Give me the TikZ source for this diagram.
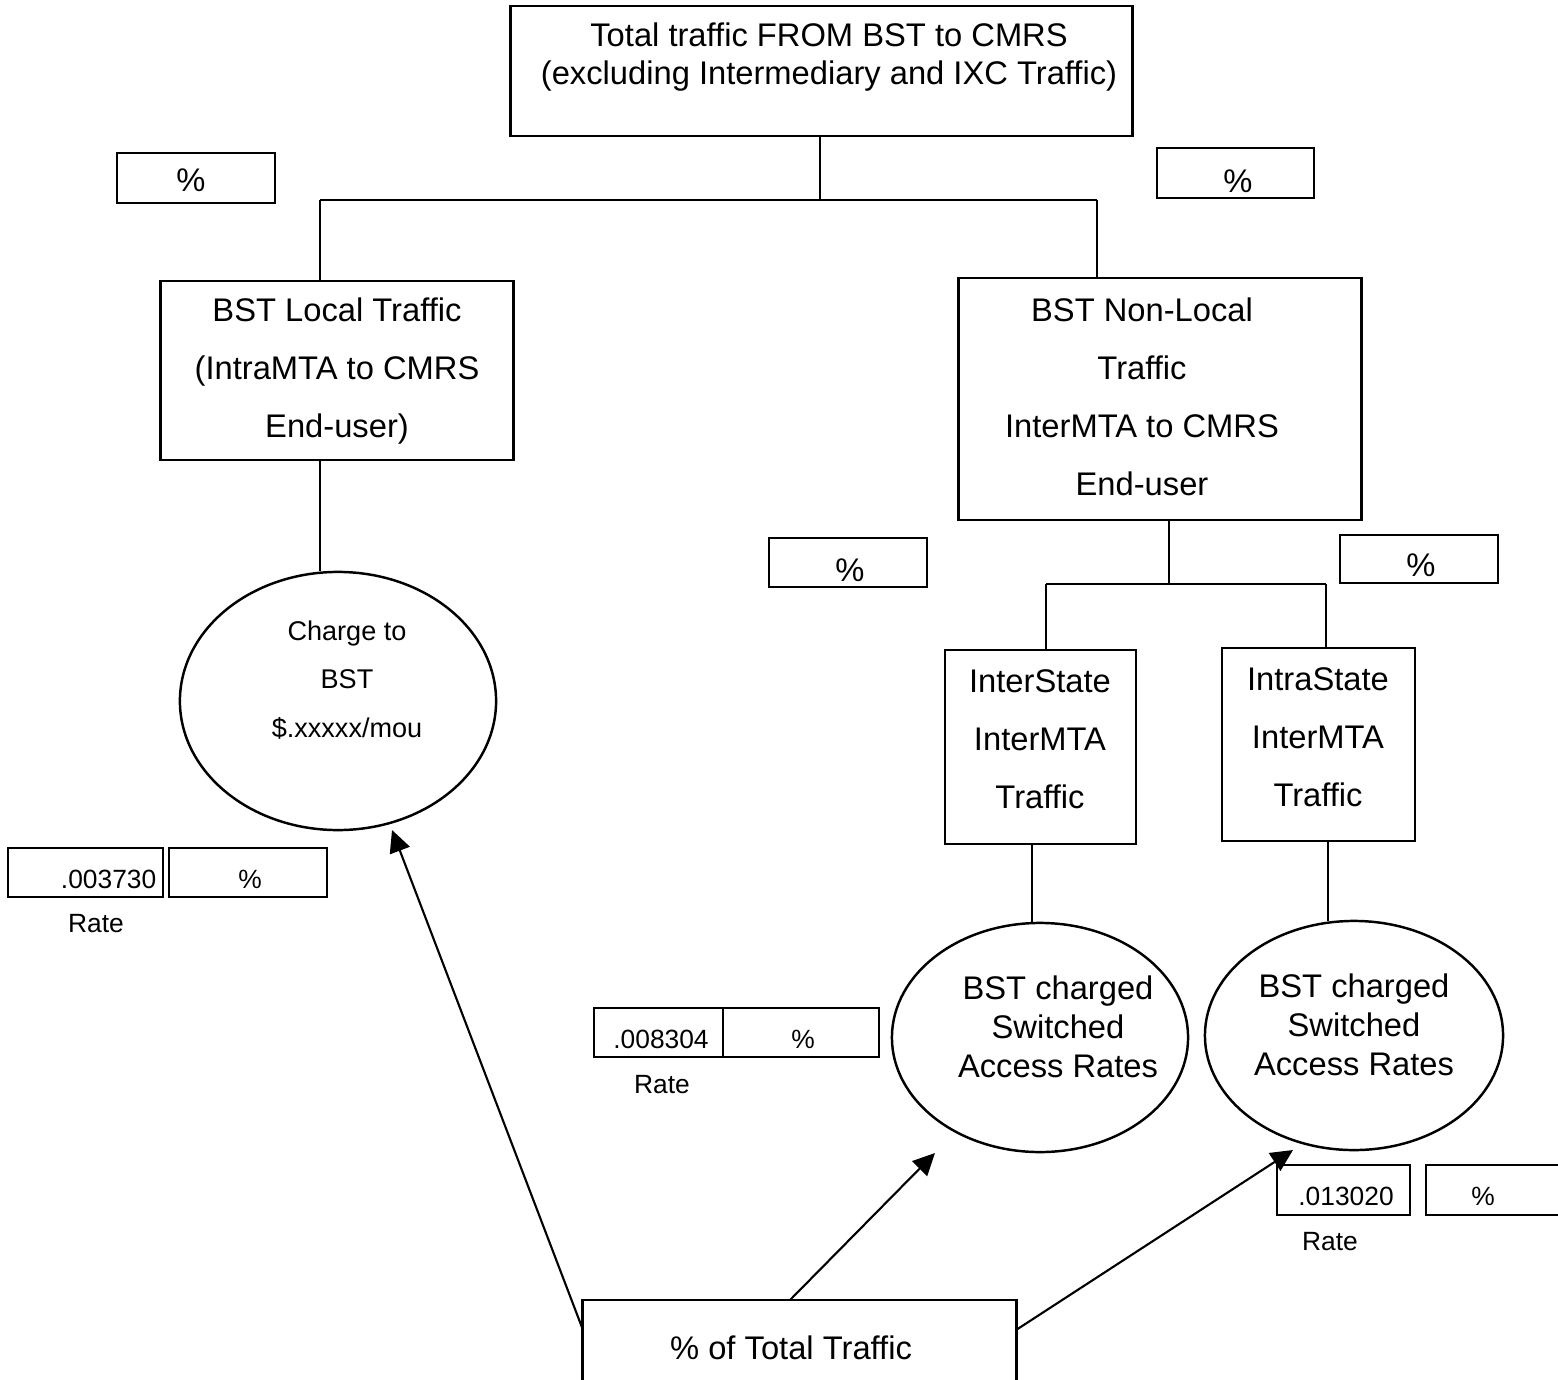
\documentclass[tikz,border=0pt]{standalone}
\usepackage{fontspec}
\setmainfont{Liberation Sans}
\usetikzlibrary{shapes.geometric,arrows.meta}
\tikzset{
  box/.style={draw, line width=0.8pt, inner sep=0pt, fill=none},
  oval/.style={draw, ellipse, line width=0.7pt, inner sep=0pt},
  wire/.style={line width=0.6pt},
  arr/.style={line width=0.6pt, -{Triangle[length=2.2mm,width=2.1mm]}},
  big/.style={font=\fontsize{9.3}{10.8}\selectfont, align=center, inner sep=0pt},
  bigw/.style={font=\fontsize{9.3}{16.5}\selectfont, align=center, inner sep=0pt},
  mid/.style={font=\fontsize{7.7}{13.7}\selectfont, align=center, inner sep=0pt},
  ell/.style={font=\fontsize{9.3}{11.1}\selectfont, align=center, inner sep=0pt},
  small/.style={font=\fontsize{7.5}{9}\selectfont, inner sep=0pt},
}
\begin{document}
\begin{tikzpicture}[x=0.01cm, y=-0.01cm]
\useasboundingbox (0,0) rectangle (1558,1379);
% boxes
\node[box, minimum width=6.21cm, minimum height=1.30cm] (top) at (821.5,71) {};
\node[big] (topT) at (829,57) {Total traffic FROM BST to CMRS\\(excluding Intermediary and IXC Traffic)};
\node[box, minimum width=1.58cm, minimum height=0.50cm] (pTL) at (196,178) {};
\node[big] (pTLt) at (191,180) {\%};
\node[box, minimum width=1.57cm, minimum height=0.50cm] (pTR) at (1235.5,173) {};
\node[big] (pTRt) at (1238,181) {\%};
\node[box, minimum width=3.52cm, minimum height=1.79cm] (lbox) at (337,370.5) {};
\node[bigw] (lboxT) at (337,371) {BST Local Traffic\\(IntraMTA to CMRS\\End-user)};
\node[box, minimum width=4.02cm, minimum height=2.42cm] (rbox) at (1160,399) {};
\node[bigw] (rboxT) at (1142,397) {BST Non-Local\\Traffic\\InterMTA to CMRS\\End-user};
\node[box, minimum width=1.58cm, minimum height=0.49cm] (pML) at (848,562.5) {};
\node[big] (pMLt) at (850,570) {\%};
\node[box, minimum width=1.58cm, minimum height=0.48cm] (pMR) at (1419,559) {};
\node[big] (pMRt) at (1421,565) {\%};
\node[box, minimum width=1.91cm, minimum height=1.94cm] (inter) at (1040.5,747) {};
\node[bigw] (interT) at (1040,739) {InterState\\InterMTA\\Traffic};
\node[box, minimum width=1.93cm, minimum height=1.93cm] (intra) at (1318.5,744.5) {};
\node[bigw] (intraT) at (1318,737) {IntraState\\InterMTA\\Traffic};
% ellipses
\node[oval, minimum width=3.16cm, minimum height=2.58cm] (e1) at (338,701) {};
\node[mid] (e1T) at (347,680) {Charge to\\BST\\\$.xxxxx/mou};
\node[oval, minimum width=2.96cm, minimum height=2.29cm] (e2) at (1040,1037.5) {};
\node[ell] (e2T) at (1058,1027) {BST charged\\Switched\\Access Rates};
\node[oval, minimum width=2.98cm, minimum height=2.29cm] (e3) at (1354,1035.5) {};
\node[ell] (e3T) at (1354,1025) {BST charged\\Switched\\Access Rates};
% rate boxes
\node[box, minimum width=1.55cm, minimum height=0.49cm] (r1) at (85.5,872.5) {};
\node[small, anchor=east] (r1t) at (157,879) {.003730};
\node[box, minimum width=1.58cm, minimum height=0.49cm] (p1) at (248,872.5) {};
\node[small] (p1t) at (250,879) {\%};
\node[small] (rate1) at (96,924) {Rate};
\node[box, minimum width=1.29cm, minimum height=0.49cm] (r2) at (658.5,1032.5) {};
\node[small] (r2t) at (661,1039) {.008304};
\node[box, minimum width=1.56cm, minimum height=0.49cm] (p2) at (801,1032.5) {};
\node[small] (p2t) at (803,1039) {\%};
\node[small] (rate2) at (662,1085) {Rate};
\node[box, minimum width=1.33cm, minimum height=0.50cm] (r3) at (1343.5,1190) {};
\node[small] (r3t) at (1346,1196) {.013020};
\node[box, minimum width=1.49cm, minimum height=0.50cm] (p3) at (1500.5,1190) {};
\node[small] (p3t) at (1483,1196) {\%};
\node[small] (rate3) at (1330,1242) {Rate};
% bottom box
\node[box, minimum width=4.33cm, minimum height=0.96cm] (bot) at (799.5,1348) {};
\node[big] (botT) at (791,1348) {\% of Total Traffic};
% tree connectors
\coordinate (jT) at (820,200);
\coordinate (jL) at (320,200);
\coordinate (jR) at (1097,200);
\draw[wire] (top.south -| jT) -- (jT);
\draw[wire] (jL) -- (jR);
\draw[wire] (jL) -- (jL |- lbox.north);
\draw[wire] (jR) -- (jR |- rbox.north);
\draw[wire] (lbox.south -| jL) -- (jL |- e1.north);
\coordinate (kT) at (1169,584);
\coordinate (kL) at (1046,584);
\coordinate (kR) at (1326,584);
\draw[wire] (rbox.south -| kT) -- (kT);
\draw[wire] (kL) -- (kR);
\draw[wire] (kL) -- (kL |- inter.north);
\draw[wire] (kR) -- (kR |- intra.north);
\coordinate (m1) at (1032,923);
\coordinate (m2) at (1328,921);
\draw[wire] (inter.south -| m1) -- (m1);
\draw[wire] (intra.south -| m2) -- (m2);
% arrows
\coordinate (s1) at (583,1330);
\coordinate (t1) at (392,830);
\coordinate (s2) at (790,1300);
\coordinate (t2) at (935,1153);
\coordinate (s3) at (1016,1330);
\coordinate (t3) at (1293,1150);
\draw[arr] (s1) -- (t1);
\draw[arr] (s2) -- (t2);
\draw[arr] (s3) -- (t3);
\end{tikzpicture}
\end{document}
